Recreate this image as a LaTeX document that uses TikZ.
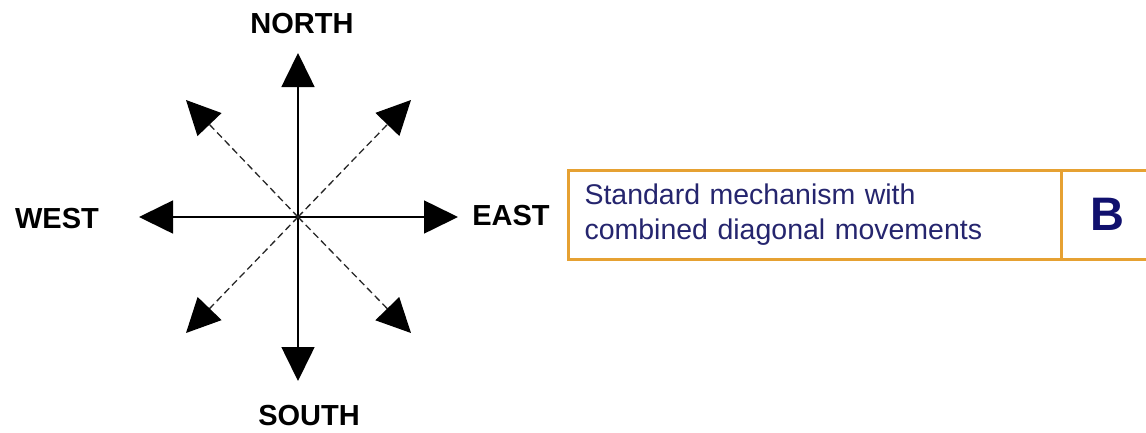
\documentclass[tikz,border=0pt]{standalone}
\usepackage{fontspec}
\setmainfont{Liberation Sans}
\usetikzlibrary{arrows.meta, positioning}
\definecolor{boxorange}{HTML}{E6A132}
\definecolor{textnavy}{HTML}{25256E}
\definecolor{codenavy}{HTML}{10106E}
\tikzset{>={Triangle[length=34pt,width=33pt,color=black]}}

\begin{document}
\begin{tikzpicture}[x=1pt, y=-1pt,
    dir/.style={font=\bfseries\fontsize{29}{34}\selectfont, inner sep=0pt},
    main/.style={->, line width=1.6pt},
    diag/.style={->, line width=1.3pt, dash pattern=on 7pt off 4pt, black!85},
    panel/.style={draw=boxorange, line width=3pt, minimum height=89pt, inner sep=0pt}]

    \clip (0,0) rectangle (1146,432);
    \fill[white] (0,0) rectangle (1146,432);

    % compass
    \coordinate (C)  at (298,217);
    \coordinate (N)  at (298,53);
    \coordinate (S)  at (298,381);
    \coordinate (E)  at (458,217);
    \coordinate (W)  at (139,217);
    \coordinate (NE) at (411,100);
    \coordinate (NW) at (186,100);
    \coordinate (SE) at (411,333);
    \coordinate (SW) at (186,333);

    \draw[main] (C) -- (N);
    \draw[main] (C) -- (S);
    \draw[main] (C) -- (E);
    \draw[main] (C) -- (W);
    \draw[diag] (C) -- (NE);
    \draw[diag] (C) -- (NW);
    \draw[diag] (C) -- (SE);
    \draw[diag] (C) -- (SW);

    \node[dir] (north) at (302,24)  {NORTH};
    \node[dir] (south) at (309,416) {SOUTH};
    \node[dir] (west)  at (57,219)  {WEST};
    \node[dir] (east)  at (511,216) {EAST};

    % description + code
    \node[panel, minimum width=493pt, text width=460pt, align=left,
          text=textnavy, font=\fontsize{28.5}{35}\selectfont]
          (desc) at (814.5,214.5)
          {Standard mechanism with\\combined diagonal movements};
    \node[panel, minimum width=92pt, right=-3pt of desc,
          text=codenavy, font=\bfseries\fontsize{47}{50}\selectfont]
          (code) {B};
\end{tikzpicture}
\end{document}
